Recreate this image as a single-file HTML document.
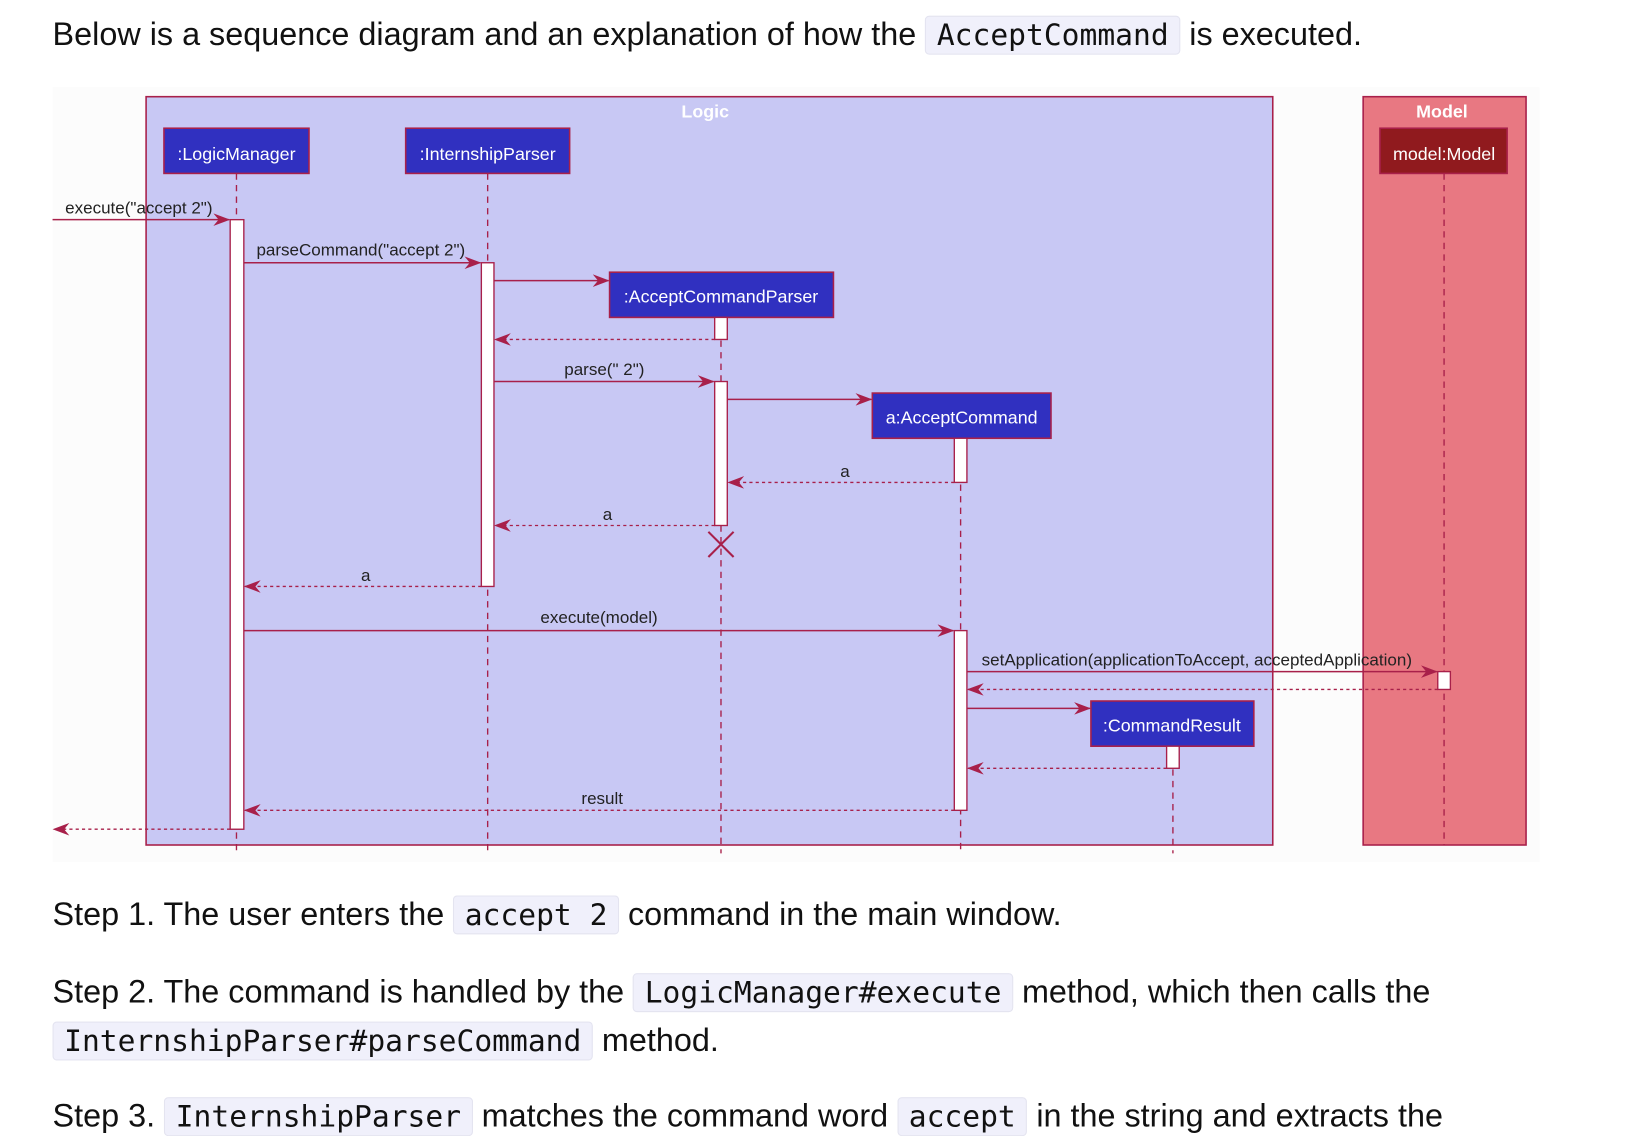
<!DOCTYPE html>
<html><head><meta charset="utf-8">
<style>
html,body{margin:0;padding:0;background:#fff;width:1648px;height:1130px;overflow:hidden}
#w{position:absolute;left:0;top:0;width:1568px;height:1075px;transform:scale(1.051);transform-origin:0 0;font-family:"Liberation Sans",sans-serif;color:#111}
.t{position:absolute;left:50px;font-size:30.8px;white-space:nowrap;line-height:36px}
.c{font-family:"DejaVu Sans Mono","Liberation Mono",monospace;font-size:28.2px;background:#f0f0fb;border:1px solid #e4e4f0;border-radius:4px;padding:1px 10px}
svg{position:absolute;left:0;top:0}
</style></head><body><div id="w">
<div class="t" style="top:15px">Below is a sequence diagram and an explanation of how the <span class="c">AcceptCommand</span> is executed.</div>
<svg width="1568" height="830" viewBox="0 0 1568 830" font-family="Liberation Sans, sans-serif">
<defs>
<marker id="a" markerWidth="16" markerHeight="12" refX="15" refY="6" orient="auto" markerUnits="userSpaceOnUse"><path d="M0,0 L16,6 L0,12 L5,6 Z" fill="#a8204a"/></marker>
</defs>
<rect x="50" y="83" width="1415" height="737" fill="#fcfcfc"/>
<rect x="139" y="92" width="1072" height="712" fill="#c8c8f4" stroke="#a8204a" stroke-width="1.5"/>
<text x="671" y="112" fill="#fff" font-weight="bold" font-size="17" text-anchor="middle">Logic</text>
<rect x="1297" y="92" width="155" height="712" fill="#e87882" stroke="#a8204a" stroke-width="1.5"/>
<text x="1372" y="112" fill="#fff" font-weight="bold" font-size="17" text-anchor="middle">Model</text>
<g stroke="#a8204a" stroke-width="1.3" stroke-dasharray="6,5" fill="none">
<line x1="225" y1="165" x2="225" y2="810"/><line x1="464" y1="165" x2="464" y2="810"/>
<line x1="686" y1="302" x2="686" y2="812"/><line x1="914" y1="417" x2="914" y2="812"/>
<line x1="1116" y1="710" x2="1116" y2="812"/><line x1="1374" y1="165" x2="1374" y2="804"/>
</g>
<g stroke="#a8204a" stroke-width="1.5">
<rect x="156" y="122" width="138" height="43" fill="#3030c0"/>
<rect x="386" y="122" width="156" height="43" fill="#3030c0"/>
<rect x="1313" y="122" width="121" height="43" fill="#901a1e"/>
<rect x="580" y="259" width="213" height="43" fill="#3030c0"/>
<rect x="830" y="374" width="170" height="43" fill="#3030c0"/>
<rect x="1038" y="667" width="155" height="43" fill="#3030c0"/>
</g>
<g fill="#fff" font-size="17" text-anchor="middle">
<text x="225" y="152">:LogicManager</text><text x="464" y="152">:InternshipParser</text>
<text x="1374" y="152">model:Model</text><text x="686" y="288">:AcceptCommandParser</text>
<text x="915" y="403">a:AcceptCommand</text><text x="1115" y="696">:CommandResult</text>
</g>
<g fill="#fff" stroke="#a8204a" stroke-width="1.3">
<rect x="219" y="209" width="13" height="580"/><rect x="458" y="250" width="12" height="308"/>
<rect x="680" y="302" width="12" height="21"/><rect x="680" y="363" width="12" height="137"/>
<rect x="908" y="417" width="12" height="42"/><rect x="908" y="600" width="12" height="171"/>
<rect x="1368" y="639" width="12" height="17"/><rect x="1110" y="710" width="12" height="21"/>
</g>
<g stroke="#a8204a" stroke-width="1.4" marker-end="url(#a)">
<line x1="50" y1="209" x2="218" y2="209"/><line x1="232" y1="250" x2="457" y2="250"/>
<line x1="470" y1="267" x2="579" y2="267"/><line x1="470" y1="363" x2="679" y2="363"/>
<line x1="692" y1="380" x2="829" y2="380"/><line x1="232" y1="600" x2="907" y2="600"/>
<line x1="920" y1="639" x2="1367" y2="639"/><line x1="920" y1="674" x2="1037" y2="674"/>
</g>
<g stroke="#a8204a" stroke-width="1.3" stroke-dasharray="3,3" marker-end="url(#a)">
<line x1="680" y1="323" x2="471" y2="323"/><line x1="908" y1="459" x2="693" y2="459"/>
<line x1="680" y1="500" x2="471" y2="500"/><line x1="458" y1="558" x2="233" y2="558"/>
<line x1="1368" y1="656" x2="921" y2="656"/><line x1="1110" y1="731" x2="921" y2="731"/>
<line x1="908" y1="771" x2="233" y2="771"/><line x1="219" y1="789" x2="51" y2="789"/>
</g>
<g stroke="#a8204a" stroke-width="2"><line x1="674" y1="506" x2="698" y2="530"/><line x1="698" y1="506" x2="674" y2="530"/></g>
<g fill="#222" font-size="16.2">
<text x="62" y="203">execute("accept 2")</text><text x="244" y="243">parseCommand("accept 2")</text>
<text x="575" y="357" text-anchor="middle">parse(" 2")</text><text x="804" y="454" text-anchor="middle">a</text>
<text x="578" y="495" text-anchor="middle">a</text><text x="348" y="553" text-anchor="middle">a</text>
<text x="570" y="593" text-anchor="middle">execute(model)</text>
<text x="934" y="633">setApplication(applicationToAccept, acceptedApplication)</text>
<text x="573" y="765" text-anchor="middle">result</text>
</g>
</svg>
<div class="t" style="top:852px">Step 1. The user enters the <span class="c">accept 2</span> command in the main window.</div>
<div class="t" style="top:926px">Step 2. The command is handled by the <span class="c">LogicManager#execute</span> method, which then calls the</div>
<div class="t" style="top:972px"><span class="c">InternshipParser#parseCommand</span> method.</div>
<div class="t" style="top:1044px">Step 3. <span class="c">InternshipParser</span> matches the command word <span class="c">accept</span> in the string and extracts the</div>
</div></body></html>
